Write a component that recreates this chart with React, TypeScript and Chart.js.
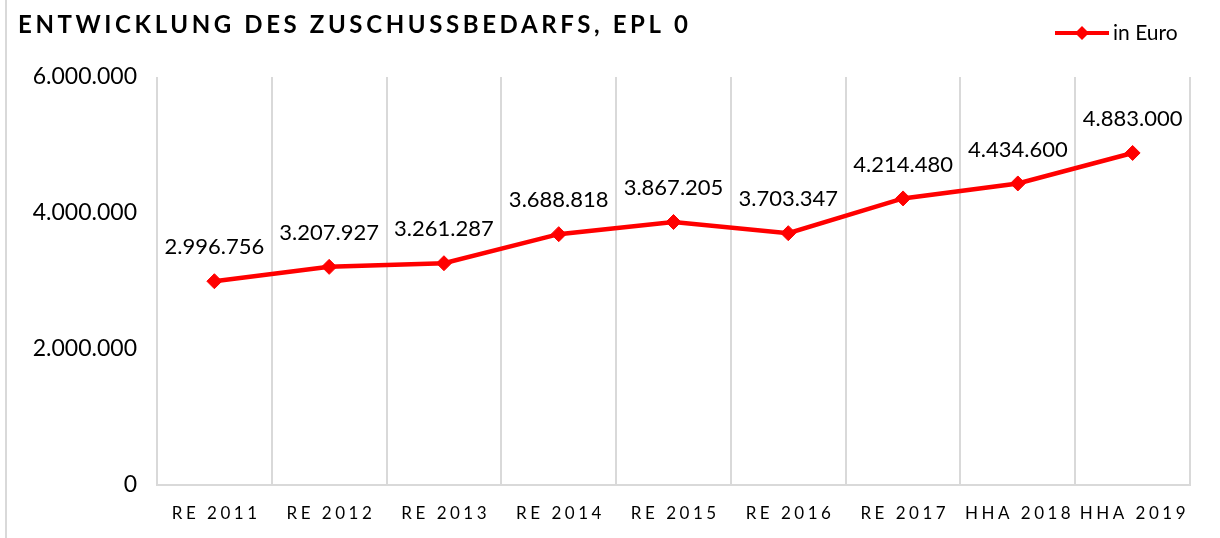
import React, { useEffect, useRef } from 'react';
import { Chart, registerables } from 'chart.js';

Chart.register(...registerables);

const chartTitle = 'ENTWICKLUNG DES ZUSCHUSSBEDARFS, EPL 0';
const seriesLabel = 'in Euro';
const categories = ['RE 2011', 'RE 2012', 'RE 2013', 'RE 2014', 'RE 2015', 'RE 2016', 'RE 2017', 'HHA 2018', 'HHA 2019'];
const values = [2996756, 3207927, 3261287, 3688818, 3867205, 3703347, 4214480, 4434600, 4883000];
const yTicks = [0, 2000000, 4000000, 6000000];

const FONT = 'Lato, "Open Sans", sans-serif';
const RED = '#ff0000';
const GRID = '#d9d9d9';

function fmt(n: number): string {
  return String(Math.round(n)).replace(/\B(?=(\d{3})+(?!\d))/g, '.');
}

const overlay = {
  id: 'overlay',
  beforeDraw(chart: any) {
    const ctx = chart.ctx;
    ctx.save();
    ctx.fillStyle = GRID;
    ctx.fillRect(5, 0, 2, chart.height);
    ctx.restore();
  },
  afterDatasetsDraw(chart: any) {
    const ctx = chart.ctx;
    const meta = chart.getDatasetMeta(0);
    ctx.save();
    ctx.font = `22px ${FONT}`;
    ctx.fillStyle = '#000';
    ctx.textAlign = 'center';
    ctx.textBaseline = 'middle';
    meta.data.forEach((pt: any, i: number) => {
      ctx.fillText(fmt(values[i]), pt.x, pt.y - 34);
    });
    ctx.restore();
  },
  afterDraw(chart: any) {
    const ctx = chart.ctx;
    ctx.save();
    // title
    ctx.font = `bold 24px ${FONT}`;
    ctx.fillStyle = '#000';
    ctx.textAlign = 'left';
    ctx.textBaseline = 'alphabetic';
    (ctx as any).letterSpacing = '0px';
    const w = ctx.measureText(chartTitle).width;
    const ls = Math.max(0, (670 - w) / (chartTitle.length - 1));
    (ctx as any).letterSpacing = ls + 'px';
    ctx.fillText(chartTitle, 18, 33);

    // x labels
    const xs = chart.scales.x;
    ctx.font = `17px ${FONT}`;
    (ctx as any).letterSpacing = '3.5px';
    ctx.textAlign = 'center';
    ctx.textBaseline = 'middle';
    categories.forEach((c, i) => {
      ctx.fillText(c, xs.getPixelForValue(i) + 1.75, 514);
    });

    // legend
    (ctx as any).letterSpacing = '0px';
    const ly = 33;
    ctx.strokeStyle = RED;
    ctx.lineWidth = 4;
    ctx.beginPath();
    ctx.moveTo(1055, ly);
    ctx.lineTo(1109, ly);
    ctx.stroke();
    ctx.fillStyle = RED;
    ctx.beginPath();
    ctx.moveTo(1082, ly - 7);
    ctx.lineTo(1089, ly);
    ctx.lineTo(1082, ly + 7);
    ctx.lineTo(1075, ly);
    ctx.closePath();
    ctx.fill();
    ctx.fillStyle = '#000';
    ctx.font = `21px ${FONT}`;
    ctx.textAlign = 'left';
    ctx.textBaseline = 'middle';
    ctx.fillText(seriesLabel, 1113, ly);
    ctx.restore();
  },
};

export default function App() {
  const ref = useRef<HTMLCanvasElement | null>(null);

  useEffect(() => {
    document.body.style.margin = '0';
    const canvas = ref.current;
    if (!canvas) return;
    const chart = new Chart(canvas, {
      type: 'line',
      data: {
        labels: categories,
        datasets: [
          {
            label: seriesLabel,
            data: values,
            borderColor: RED,
            backgroundColor: RED,
            borderWidth: 4.5,
            pointStyle: 'rectRot',
            pointRadius: 7.5,
            pointBorderWidth: 1,
            pointBackgroundColor: RED,
            pointBorderColor: RED,
            tension: 0,
          },
        ],
      },
      options: {
        responsive: false,
        animation: false,
        events: [],
        layout: { padding: { top: 77, right: 30, left: 0, bottom: 0 } },
        plugins: {
          legend: { display: false },
          title: { display: false },
          tooltip: { enabled: false },
        },
        scales: {
          x: {
            offset: true,
            grid: { display: true, offset: true, color: GRID, lineWidth: 2, drawTicks: false },
            border: { display: true, color: GRID, width: 2 },
            ticks: { display: false },
            afterFit: (scale: any) => {
              scale.height = 53;
            },
          },
          y: {
            min: 0,
            max: 6000000,
            grid: { display: false, drawTicks: false },
            border: { display: false },
            ticks: {
              padding: 20,
              color: '#000',
              font: { family: FONT, size: 23 },
              callback: (v: any) => fmt(Number(v)),
            },
            afterBuildTicks: (scale: any) => {
              scale.ticks = yTicks.map((v) => ({ value: v }));
            },
            afterFit: (scale: any) => {
              scale.width = 157;
            },
          },
        },
      },
      plugins: [overlay],
    });
    return () => chart.destroy();
  }, []);

  return (
    <div style={{ width: 1220, height: 538, position: 'relative', background: '#fff' }}>
      <canvas ref={ref} width={1220} height={538} style={{ display: 'block' }} />
    </div>
  );
}
